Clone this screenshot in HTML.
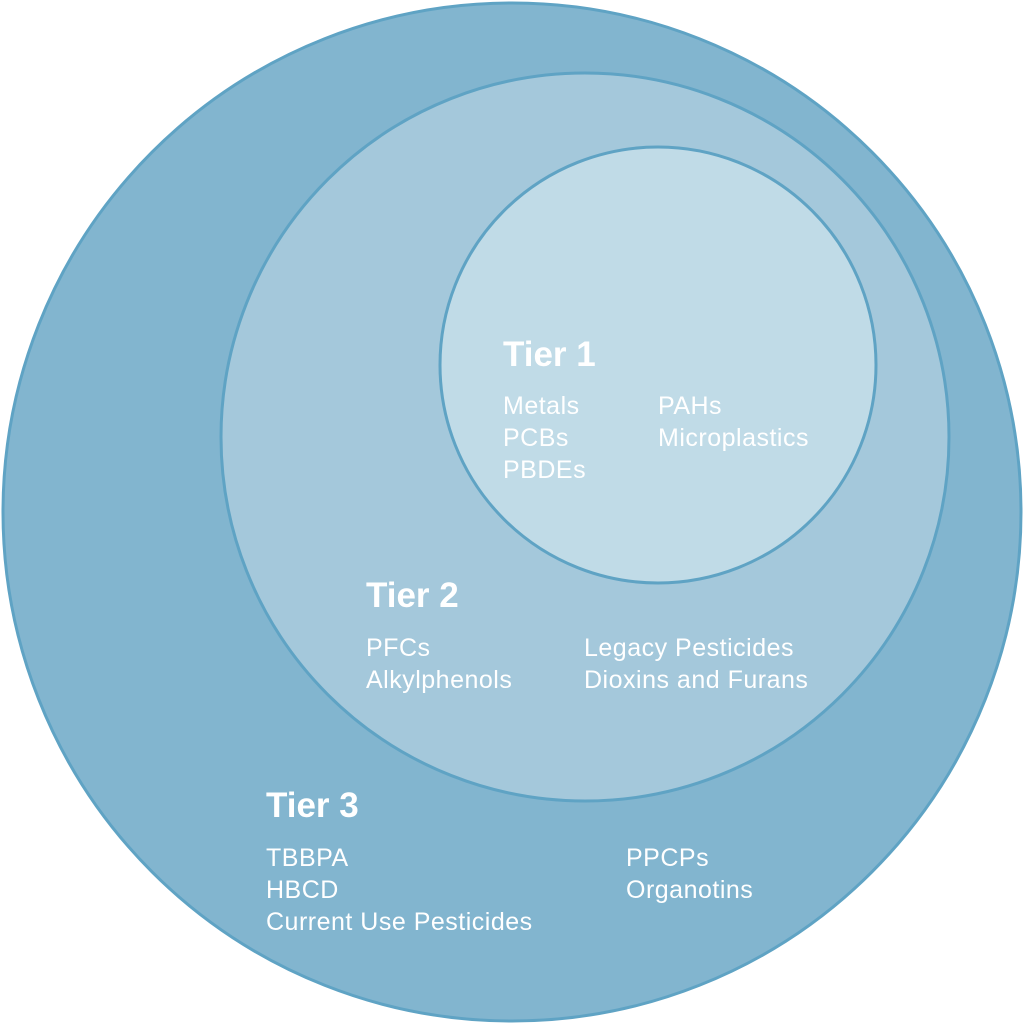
<!DOCTYPE html>
<html><head><style>
body{margin:0;width:1024px;height:1024px;background:#fff;overflow:hidden}
svg text{font-family:"Liberation Sans",Arial,sans-serif;fill:#fff}
.h{font-weight:bold;font-size:35px}
.t{font-size:25px;letter-spacing:0.5px}
</style></head><body>
<svg width="1024" height="1024" viewBox="0 0 1024 1024">
<circle cx="512" cy="512" r="509" fill="#82b5cf" stroke="#5fa3c4" stroke-width="3"/>
<circle cx="585" cy="437" r="364" fill="#a4c8db" stroke="#5fa3c4" stroke-width="3"/>
<circle cx="658" cy="365" r="218" fill="#c0dbe7" stroke="#5fa3c4" stroke-width="3"/>
<text class="h" x="503" y="366">Tier 1</text>
<text class="t" x="503" y="414">Metals</text>
<text class="t" x="503" y="446">PCBs</text>
<text class="t" x="503" y="478">PBDEs</text>
<text class="t" x="658" y="414">PAHs</text>
<text class="t" x="658" y="446">Microplastics</text>
<text class="h" x="366" y="607">Tier 2</text>
<text class="t" x="366" y="656">PFCs</text>
<text class="t" x="366" y="688">Alkylphenols</text>
<text class="t" x="584" y="656">Legacy Pesticides</text>
<text class="t" x="584" y="688">Dioxins and Furans</text>
<text class="h" x="266" y="817">Tier 3</text>
<text class="t" x="266" y="866">TBBPA</text>
<text class="t" x="266" y="898">HBCD</text>
<text class="t" x="266" y="930">Current Use Pesticides</text>
<text class="t" x="626" y="866">PPCPs</text>
<text class="t" x="626" y="898">Organotins</text>
</svg>
</body></html>
